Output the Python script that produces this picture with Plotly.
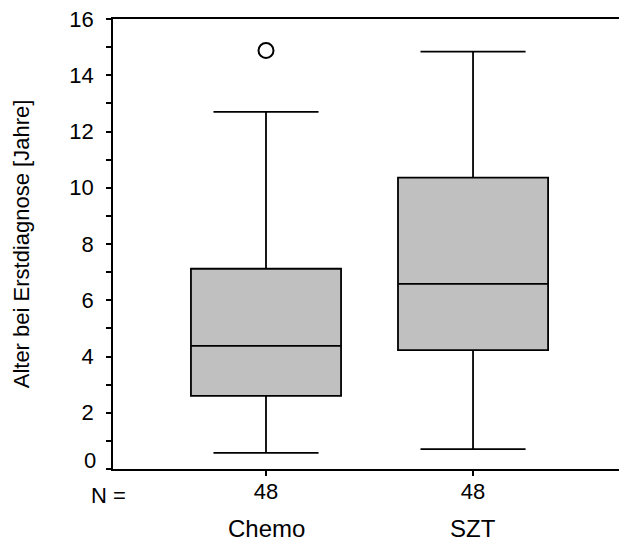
import plotly.graph_objects as go

groups = ["Chemo", "SZT"]
n_counts = ["48", "48"]
lower_whisker = [0.57, 0.71]
q1 = [2.60, 4.23]
median = [4.38, 6.58]
q3 = [7.12, 10.36]
upper_whisker = [12.70, 14.84]
outlier_group = [0]
outlier_value = [14.88]

y_ticks = list(range(0, 17))
y_labels = [str(v) if (v % 2 == 0 and v != 0) else "" for v in y_ticks]

FONT = "Liberation Sans, Arial, sans-serif"
FS = 22

fig = go.Figure()
fig.add_trace(go.Box(
    x=[0, 1], q1=q1, median=median, q3=q3,
    lowerfence=lower_whisker, upperfence=upper_whisker,
    fillcolor="#c0c0c0", line=dict(color="black", width=1.8),
    width=0.725, whiskerwidth=0.7, boxpoints=False, showlegend=False,
    hoverinfo="skip",
))
fig.add_trace(go.Scatter(
    x=outlier_group, y=outlier_value, mode="markers",
    marker=dict(symbol="circle-open", size=15, color="black", line=dict(width=2)),
    showlegend=False, hoverinfo="skip",
))

annotations = []
for i, g in enumerate(groups):
    annotations.append(dict(x=i, xref="x", y=-0.133, yref="paper", text=g,
                            showarrow=False, font=dict(family=FONT, size=24, color="black"),
                            yanchor="middle"))
annotations.append(dict(x=0.03, xref="paper", y=-0.058, yref="paper", text="N =",
                        showarrow=False, font=dict(family=FONT, size=FS, color="black"),
                        yanchor="middle", xanchor="right"))
annotations.append(dict(x=0, xref="paper", y=0, yref="y", text="0", xshift=-15, yshift=9,
                        showarrow=False, font=dict(family=FONT, size=FS, color="black"),
                        xanchor="right", yanchor="middle"))

fig.update_layout(
    width=619, height=545,
    margin=dict(l=113, r=0, t=19, b=76),
    paper_bgcolor="white", plot_bgcolor="white",
    font=dict(family=FONT, size=FS, color="black"),
    xaxis=dict(range=[-0.739, 1.705], tickvals=[0, 1], ticktext=n_counts,
               showgrid=False, zeroline=False, showline=True, linecolor="black",
               linewidth=1.8, mirror=True, ticks="outside", ticklen=5, tickwidth=1.5,
               tickcolor="black", tickfont=dict(size=FS), ticklabelstandoff=-3),
    yaxis=dict(range=[0, 16], tickvals=y_ticks, ticktext=y_labels,
               showgrid=False, zeroline=False, showline=True, linecolor="black",
               linewidth=1.8, ticks="outside", ticklen=5, tickwidth=1.5,
               tickcolor="black", tickfont=dict(size=FS), ticklabelstandoff=8,
               title=dict(text="Alter bei Erstdiagnose [Jahre]", font=dict(size=FS), standoff=34)),
    annotations=annotations,
)

fig.write_html("out.html")
